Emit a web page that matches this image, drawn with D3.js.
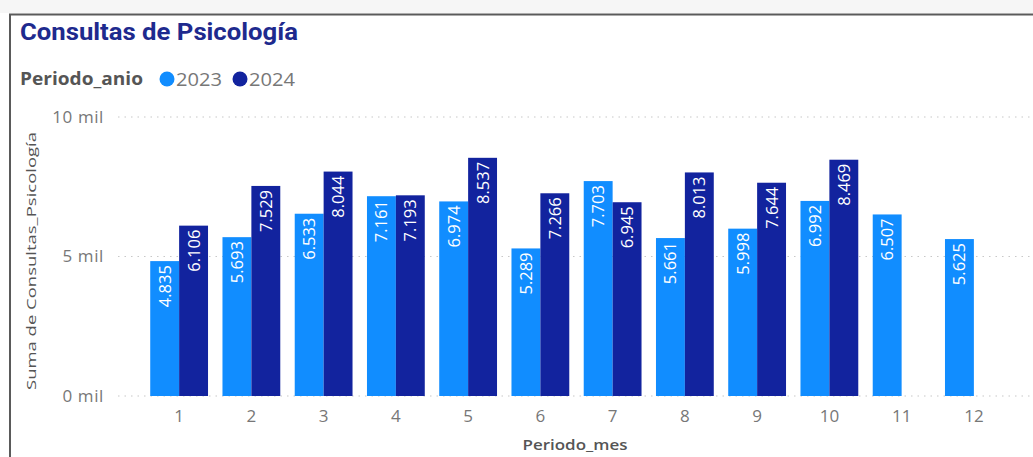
<!DOCTYPE html>
<html><head><meta charset="utf-8">
<script src="https://cdn.jsdelivr.net/npm/d3@7"></script>
<style>body{margin:0;background:#fff}svg{display:block}</style>
</head><body>
<svg id="c" width="1033" height="457"></svg>
<script>
const months = ["1","2","3","4","5","6","7","8","9","10","11","12"];
const years = ["2023","2024"];
const values2023 = [4835,5693,6533,7161,6974,5289,7703,5661,5998,6992,6507,5625];
const values2024 = [6106,7529,8044,7193,8537,7266,6945,8013,7644,8469,null,null];
const yTicks = [0,5000,10000];
const colors = ["#118DFF","#12239E"];

const FONT = "'Open Sans',sans-serif";
const svg = d3.select("#c");
const W = 1033, H = 457;
svg.append("rect").attr("width",W).attr("height",H).attr("fill","#fff");
svg.append("rect").attr("width",W).attr("height",13).attr("fill","#f6f6f6");
// frame
svg.append("rect").attr("x",10).attr("y",14.5).attr("width",W+20).attr("height",H+20)
  .attr("fill","none").attr("stroke","#5a5a5a").attr("stroke-width",2);

const x = d3.scaleBand().domain(months).range([143,1010]).paddingInner(0.2).paddingOuter(0.1);
const xs = d3.scaleBand().domain(years).range([0,x.bandwidth()]);
const y = d3.scaleLinear().domain([0,10000]).range([396,117]);

// gridlines
svg.append("g").selectAll("line").data(yTicks).join("line")
  .attr("x1",118).attr("x2",W).attr("y1",d=>y(d)).attr("y2",d=>y(d))
  .attr("stroke","#c8c8c8").attr("stroke-width",1.2).attr("stroke-dasharray","1.5,5");

// y axis
const yAxis = d3.axisLeft(y).tickValues(yTicks).tickSize(0).tickPadding(0)
  .tickFormat(d=>(d/1000)+" mil");
const ya = svg.append("g").attr("transform","translate(104,0)").call(yAxis);
ya.select(".domain").remove();
ya.selectAll("text").attr("font-family",FONT).attr("font-size",17).attr("fill","#777")
  .attr("letter-spacing",0.6);

// x axis
const xAxis = d3.axisBottom(x).tickSize(0).tickPadding(0);
const xa = svg.append("g").attr("transform","translate(0,410)").call(xAxis);
xa.select(".domain").remove();
xa.selectAll("text").attr("font-family",FONT).attr("font-size",17).attr("fill","#777");

const fmt = d3.formatLocale({decimal:",",thousands:".",grouping:[3],currency:["","€"]}).format(",d");

const data = [];
months.forEach((m,i)=>{
  [values2023[i],values2024[i]].forEach((v,j)=>{ if(v!=null) data.push({m,yr:years[j],v,c:colors[j]}); });
});

const g = svg.append("g");
g.selectAll("rect").data(data).join("rect")
  .attr("x",d=>x(d.m)+xs(d.yr)).attr("width",xs.bandwidth())
  .attr("y",d=>y(d.v)).attr("height",d=>y(0)-y(d.v)).attr("fill",d=>d.c);

g.selectAll("text").data(data).join("text")
  .attr("transform",d=>`translate(${x(d.m)+xs(d.yr)+xs.bandwidth()/2+6},${y(d.v)+4}) rotate(-90)`)
  .attr("text-anchor","end").attr("fill","#fff")
  .attr("font-family",FONT).attr("font-size",16.5)
  .text(d=>fmt(d.v));

// axis titles
svg.append("text").attr("x",575).attr("y",450).attr("text-anchor","middle")
  .attr("font-family",FONT).attr("font-weight",600).attr("font-size",15).attr("fill","#555")
  .attr("textLength",105).attr("lengthAdjust","spacingAndGlyphs")
  .text("Periodo_mes");
svg.append("text").attr("transform","translate(36,261) rotate(-90)").attr("text-anchor","middle")
  .attr("font-family",FONT).attr("font-size",13.5).attr("fill","#555")
  .attr("textLength",258).attr("lengthAdjust","spacingAndGlyphs")
  .text("Suma de Consultas_Psicología");

// title
svg.append("text").attr("x",20).attr("y",40)
  .attr("font-family","Roboto,sans-serif").attr("font-weight","bold").attr("font-size",24)
  .attr("fill","#1E2A8E").attr("textLength",278).attr("lengthAdjust","spacingAndGlyphs")
  .text("Consultas de Psicología");

// legend
svg.append("text").attr("x",20).attr("y",85)
  .attr("font-family",FONT).attr("font-weight","bold").attr("font-size",17)
  .attr("fill","#555").attr("textLength",123).attr("lengthAdjust","spacingAndGlyphs")
  .text("Periodo_anio");
const leg = svg.append("g").selectAll("g").data(years).join("g")
  .attr("transform",(d,i)=>`translate(${167+i*73},79)`);
leg.append("circle").attr("r",7.5).attr("fill",(d,i)=>colors[i]);
leg.append("text").attr("x",9).attr("y",6.5)
  .attr("font-family",FONT).attr("font-size",18).attr("fill","#777")
  .attr("textLength",46).attr("lengthAdjust","spacingAndGlyphs").text(d=>d);
</script>
</body></html>
